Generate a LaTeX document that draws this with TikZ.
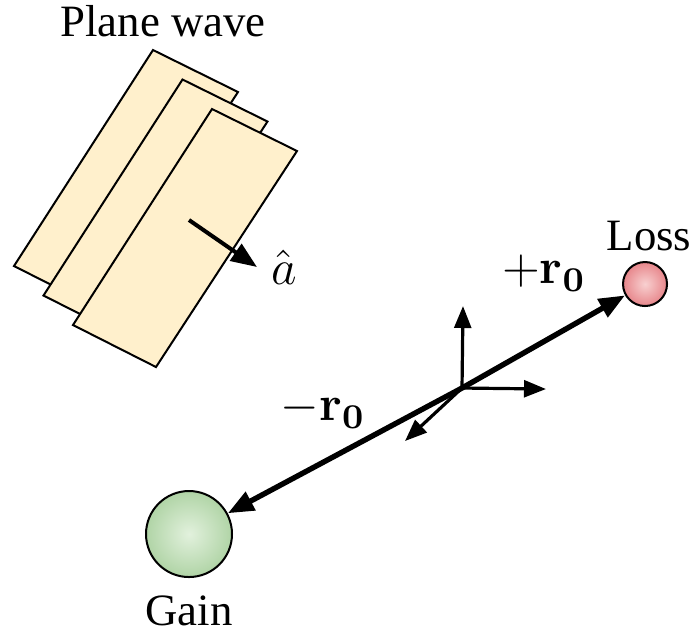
\RequirePackage{fix-cm}
\documentclass[tikz,border=0pt]{standalone}
\usepackage[no-math]{fontspec}
\setmainfont{Liberation Serif}
\usetikzlibrary{arrows.meta, positioning}
\definecolor{planefill}{RGB}{255,240,204}
\definecolor{gainin}{RGB}{226,241,221}
\definecolor{gainout}{RGB}{176,212,166}
\definecolor{lossin}{RGB}{248,208,208}
\definecolor{lossout}{RGB}{231,134,139}

\begin{document}
\begin{tikzpicture}[x=0.25pt, y=-0.25pt, >={Triangle[length=6.5pt, width=5pt]},
      font=\fontsize{11.2}{13}\selectfont,
      mathlbl/.style={font=\fontsize{12.4}{15}\selectfont},
      plane/.style={draw, fill=planefill, line width=0.5pt},
      ball/.style={circle, draw, line width=0.5pt, inner sep=0pt, shading=radial},
      axis/.style={->, line width=0.8pt, >={Triangle[length=5.5pt, width=4.2pt]}},
      dipole/.style={->, line width=1.35pt}]

    \useasboundingbox (0,0) rectangle (692,636);

    % wave fronts
    \foreach \s in {-59,-29.5,0}
      \draw[plane, shift={(\s,\s)}] (212,109) -- (297,151) -- (156,367) -- (73,325) -- cycle;
    \node (wavelbl) at (163,21) {Plane wave};

    % propagation direction
    \coordinate (atail) at (189,220);
    \coordinate (ahead) at (257,267);
    \draw[->, line width=1pt] (atail) -- (ahead) node[mathlbl, right, inner sep=3pt] (ahat) {$\hat{a}$};

    % gain and loss
    \node[ball, minimum size=21.5pt, inner color=gainin, outer color=gainout] (gain) at (189,534) {};
    \node[ball, minimum size=11pt, inner color=lossin, outer color=lossout] (loss) at (645,284) {};
    \node[below=1pt of gain] (gainlbl) {Gain};
    \node[above=-1pt of loss, xshift=1pt] (losslbl) {Loss};

    % dipole
    \coordinate (origin) at (462,388);
    \draw[dipole] (origin) -- (loss);
    \draw[dipole] (origin) -- (gain);
    \node[mathlbl] (plus) at (544,273) {$+\mathbf{r_0}$};
    \node[mathlbl] (minus) at (323,410) {$-\mathbf{r_0}$};

    % local axes
    \coordinate (ez) at (463,306);
    \coordinate (ey) at (546,389);
    \coordinate (ex) at (405,441);
    \draw[axis] (origin) -- (ez);
    \draw[axis] (origin) -- (ey);
    \draw[axis] (origin) -- (ex);
  \end{tikzpicture}
\end{document}
